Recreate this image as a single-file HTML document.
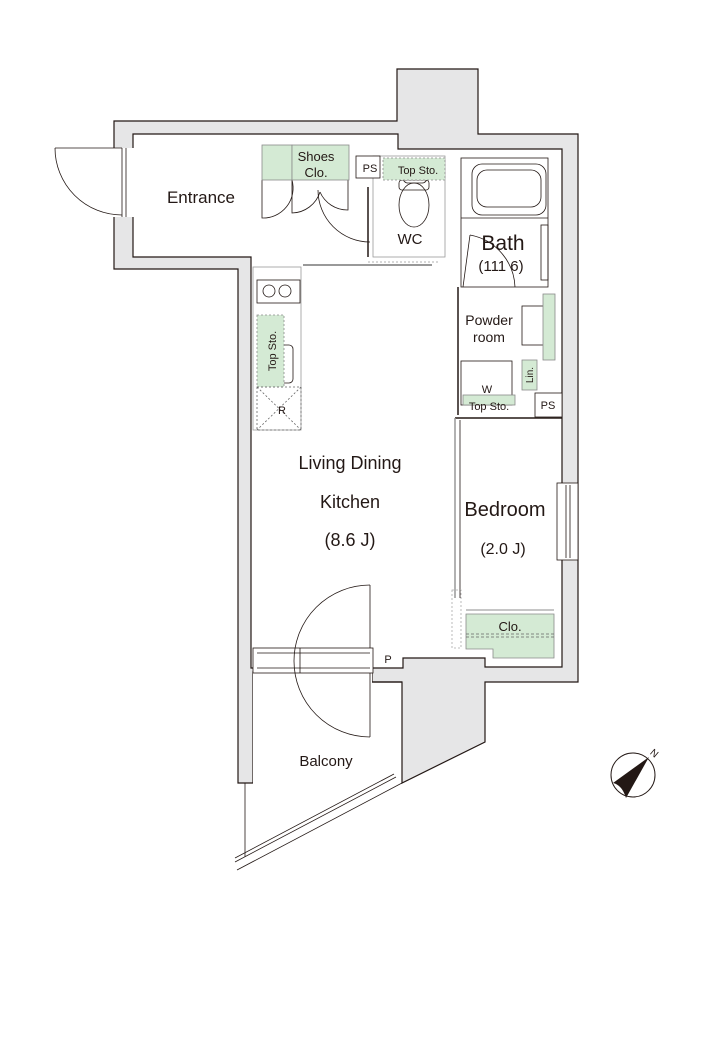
<!DOCTYPE html>
<html><head><meta charset="utf-8"><style>
html,body{margin:0;padding:0;background:#fff}
svg{display:block}
text{font-family:"Liberation Sans",sans-serif;fill:#231815}
</style></head><body>
<svg width="720" height="1050" viewBox="0 0 720 1050" xmlns="http://www.w3.org/2000/svg">
<g stroke="#231815" stroke-width="1.2">
<polygon fill="#e6e6e7" points="114,121 397,121 397,69 478,69 478,134 578,134 578,682 485,682 485,742 402,783 402,682 372,682 372,672 253,672 253,783 238,783 238,269 114,269"/>
<polygon fill="#fff" points="133,134 398,134 398,149 562,149 562,667 485,667 485,658 403,658 403,668 251,668 251,257 133,257"/>
<polygon fill="#fff" stroke="none" points="253,673 372,673 372,683 401,683 401,783 253,860"/>
</g>
<rect x="113" y="148" width="21" height="69" fill="#fff"/>
<g fill="none" stroke="#231815" stroke-width="0.8">
<line x1="122" y1="148" x2="122" y2="217"/><line x1="126" y1="148" x2="126" y2="217"/>
<line x1="122" y1="148" x2="55" y2="148"/>
<path d="M55,148 A67,67 0 0 0 122,215"/>
<line x1="372" y1="682" x2="402" y2="682" stroke-width="1.2"/>
<line x1="237" y1="870" x2="402" y2="783"/>
<line x1="235" y1="862" x2="396" y2="777"/>
<line x1="235" y1="858" x2="394" y2="774"/>
<line x1="245" y1="783" x2="245" y2="857"/>
<rect x="253" y="648" width="120" height="25" fill="#fff"/>
<line x1="257" y1="653" x2="370" y2="653"/><line x1="257" y1="668" x2="370" y2="668"/>
<line x1="300" y1="648" x2="300" y2="673"/>
<path d="M370,585 A76,76 0 0 0 370,737"/>
<line x1="370" y1="585" x2="370" y2="648"/>
<line x1="370" y1="673" x2="370" y2="737"/>
<path d="M262,180 V218 A30,30 0 0 0 292,180"/>
<path d="M292,180 V213 A30,30 0 0 0 320,192"/>
<path d="M320,192 A30,30 0 0 0 348,210 V180"/>
<path d="M318,190 A52,52 0 0 0 370,242"/>
<line x1="368" y1="187" x2="368" y2="257" stroke-width="1.5"/>
<rect x="373" y="156" width="72" height="101" stroke="#999"/>
<ellipse cx="414" cy="205" rx="15" ry="22"/>
<rect x="399" y="180" width="30" height="10" rx="3"/>
<rect x="403" y="161" width="24" height="22" rx="5"/>
<line x1="303" y1="265" x2="432" y2="265" stroke="#999" stroke-width="2"/>
<line x1="368" y1="262" x2="440" y2="262" stroke-dasharray="2,2" stroke="#999"/>
<rect x="461" y="158" width="87" height="129"/>
<line x1="461" y1="218" x2="548" y2="218"/>
<rect x="472" y="164" width="74" height="51" rx="10"/>
<rect x="477" y="170" width="64" height="37" rx="10"/>
<rect x="541" y="225" width="7" height="55"/>
<path d="M470,235 L463,287 M470,235 A55,55 0 0 1 515,287"/>
<line x1="458" y1="287" x2="458" y2="415" stroke-width="1.5"/>
<line x1="455" y1="418" x2="562" y2="418" stroke-width="1.5"/>
<rect x="522" y="306" width="24" height="39"/>
<rect x="461" y="361" width="51" height="44"/>
<rect x="535" y="393" width="27" height="24" fill="#fff"/>
<rect x="356" y="156" width="24" height="22" fill="#fff"/>
<rect x="253" y="267" width="48" height="163" stroke="#999"/>
<rect x="257" y="280" width="43" height="23"/>
<circle cx="269" cy="291" r="6"/><circle cx="285" cy="291" r="6"/>
<rect x="263" y="345" width="30" height="38" rx="4"/>
<line x1="455" y1="418" x2="455" y2="598" stroke-width="1.5" stroke="#999"/>
<line x1="460" y1="420" x2="460" y2="598"/>
<rect x="452" y="590" width="9" height="58" stroke="#aaa" stroke-dasharray="2,2"/>
<rect x="557" y="483" width="21" height="77" fill="#fff"/>
<line x1="566" y1="485" x2="566" y2="558"/><line x1="570" y1="485" x2="570" y2="558"/>
</g>
<g fill="#d4ead4" stroke="#8a8a8a" stroke-width="0.8">
<rect x="262" y="145" width="30" height="35"/>
<rect x="292" y="145" width="57" height="35"/>
<rect x="383" y="158" width="62" height="22" stroke-dasharray="2,2"/>
<rect x="543" y="294" width="12" height="66"/>
<rect x="522" y="360" width="15" height="30"/>
<rect x="463" y="395" width="52" height="10"/>
<rect x="257" y="315" width="27" height="72" stroke-dasharray="2,2"/>
<polygon points="466,614 554,614 554,658 493,658 493,649 466,649"/>
</g>
<g fill="none" stroke="#666" stroke-width="0.8">
<line x1="466" y1="634" x2="554" y2="634" stroke-dasharray="3,2"/>
<line x1="466" y1="637" x2="554" y2="637" stroke-dasharray="3,2"/>
<rect x="257" y="387" width="44" height="43" stroke-dasharray="2,2"/>
<line x1="257" y1="387" x2="301" y2="430" stroke-dasharray="2,2"/>
<line x1="301" y1="387" x2="257" y2="430" stroke-dasharray="2,2"/>
<line x1="466" y1="610" x2="554" y2="610"/>
</g>
<circle cx="633" cy="775" r="22" fill="none" stroke="#231815" stroke-width="1"/>
<path d="M649,757 L613,783 Q622,785 626,798 Z" fill="#231815"/>
<text x="651" y="757" font-size="10" transform="rotate(40 655 753)">N</text>
<g text-anchor="middle">
<text x="201" y="203" font-size="17">Entrance</text>
<text x="316" y="161" font-size="13">Shoes</text>
<text x="316" y="177" font-size="13">Clo.</text>
<text x="370" y="172" font-size="11">PS</text>
<text x="418" y="174" font-size="11">Top Sto.</text>
<text x="410" y="244" font-size="15">WC</text>
<text x="503" y="250" font-size="21">Bath</text>
<text x="501" y="271" font-size="15">(111 6)</text>
<text x="489" y="325" font-size="14">Powder</text>
<text x="489" y="342" font-size="14">room</text>
<text x="487" y="393" font-size="11">W</text>
<text x="489" y="410" font-size="11">Top Sto.</text>
<text x="548" y="409" font-size="11">PS</text>
<text x="282" y="414" font-size="11">R</text>
<text x="350" y="469" font-size="18">Living Dining</text>
<text x="350" y="508" font-size="18">Kitchen</text>
<text x="350" y="546" font-size="18">(8.6 J)</text>
<text x="505" y="516" font-size="20">Bedroom</text>
<text x="503" y="554" font-size="16">(2.0 J)</text>
<text x="510" y="631" font-size="13">Clo.</text>
<text x="388" y="663" font-size="11">P</text>
<text x="326" y="766" font-size="15">Balcony</text>
<text x="0" y="0" font-size="11" transform="translate(276,351) rotate(-90)">Top Sto.</text>
<text x="0" y="0" font-size="10" transform="translate(533,375) rotate(-90)">Lin.</text>
</g>
</svg>
</body></html>
